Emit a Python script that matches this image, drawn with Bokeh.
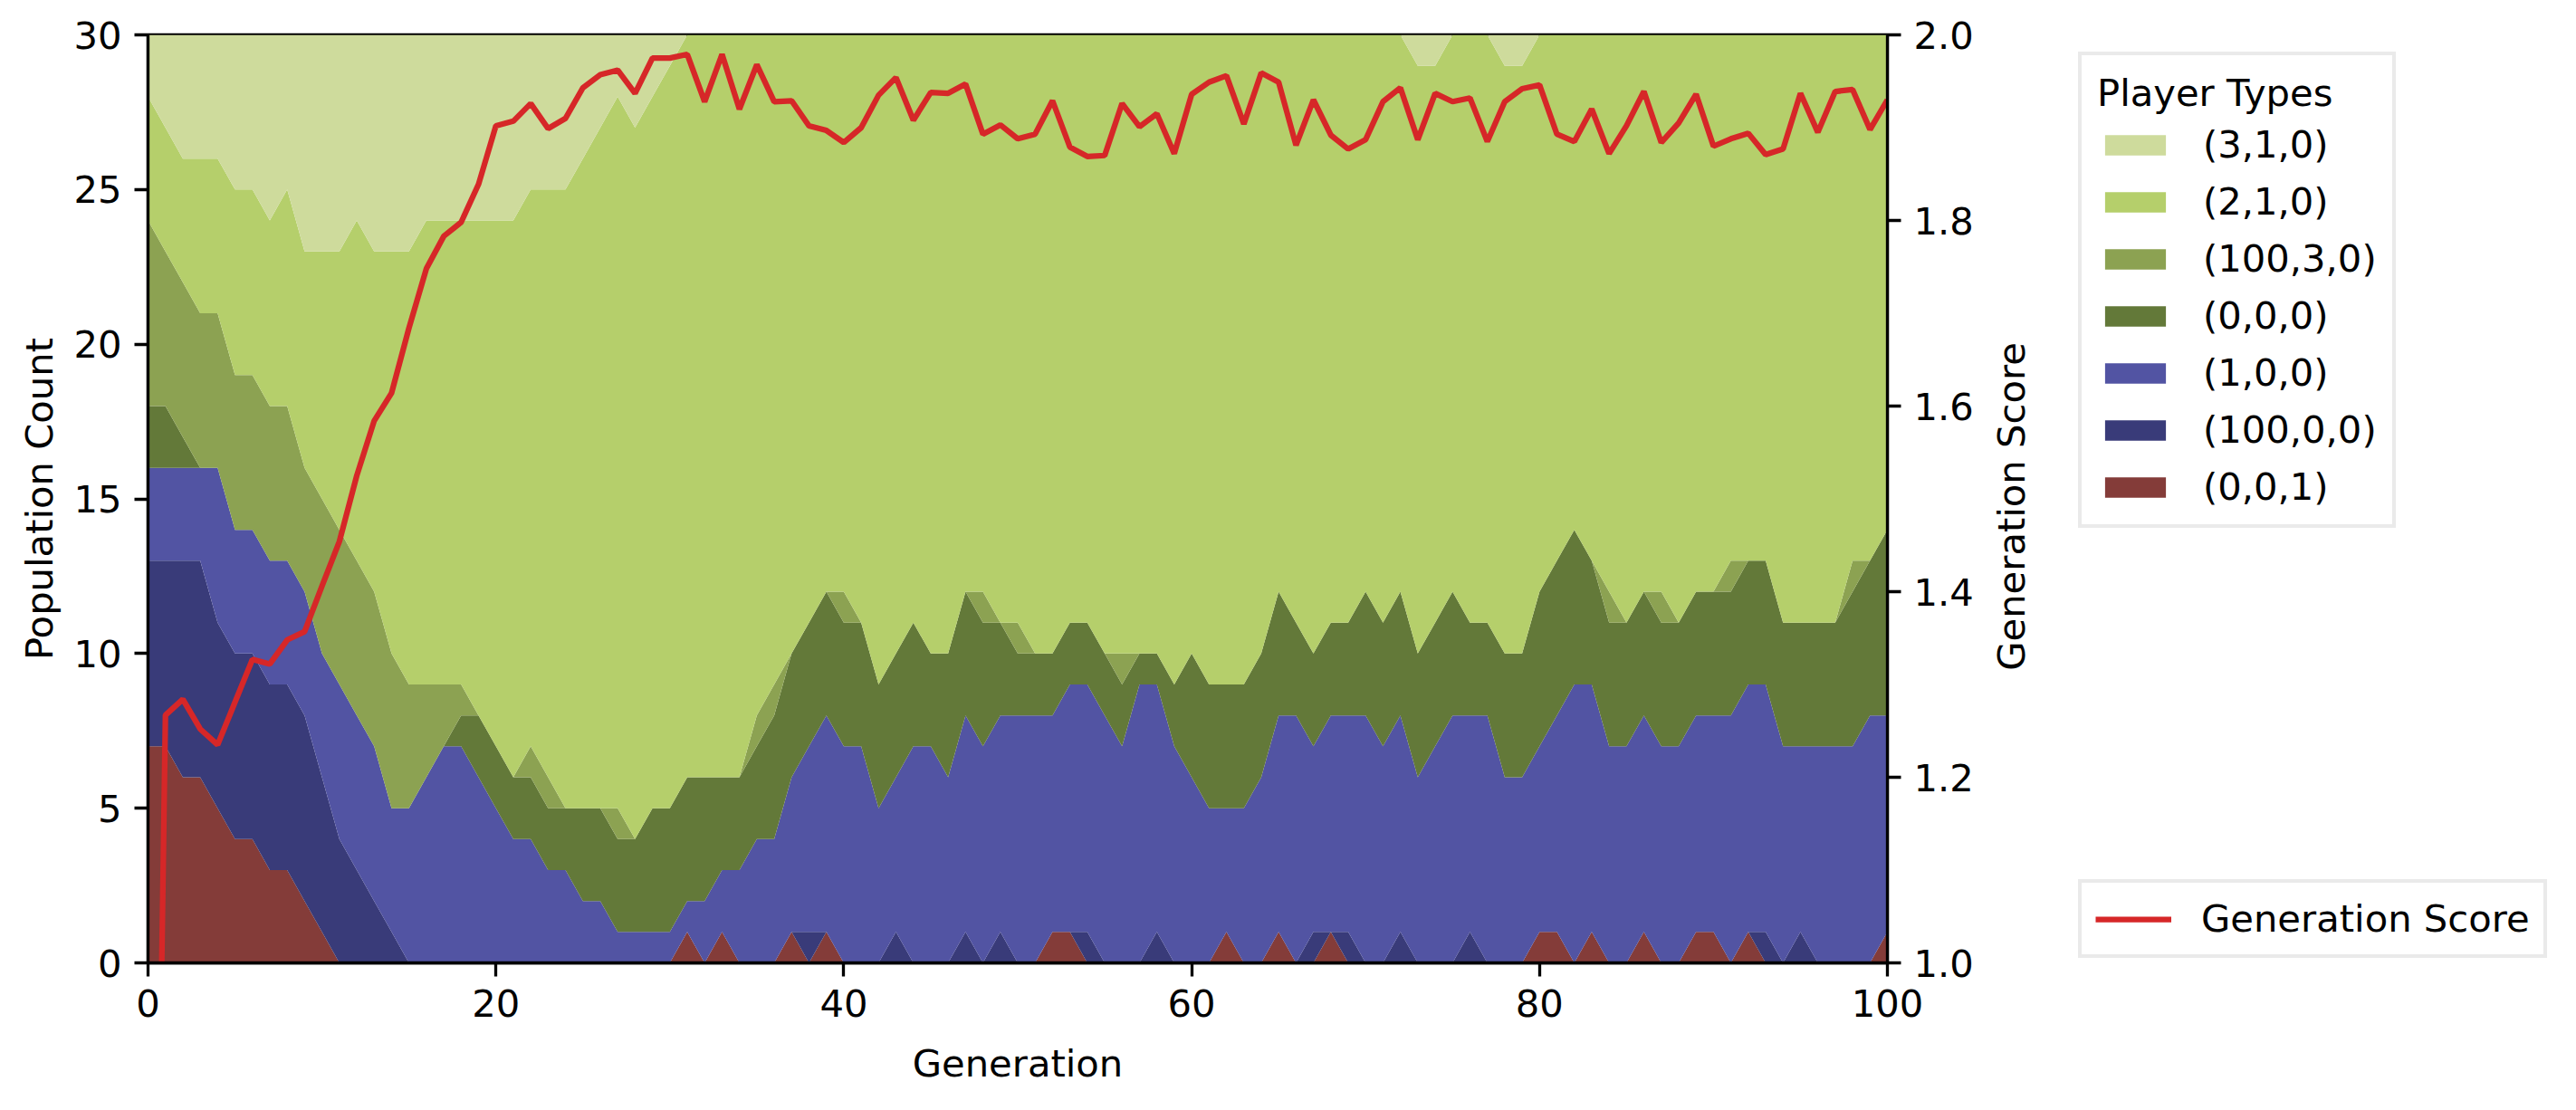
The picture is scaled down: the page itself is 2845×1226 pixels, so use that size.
import math
from bokeh.plotting import figure
from bokeh.layouts import row
from bokeh.models import (ColumnDataSource, Range1d, LinearAxis, Legend, LegendItem,
                          FixedTicker, PrintfTickFormatter, Label)
from bokeh.embed import file_html
from bokeh.resources import INLINE

generations = list(range(101))

# stacked series (counts per generation), bottom to top
s_001 = [7,7,6,6,5,4,4,3,3,2,
         1,0,0,0,0,0,0,0,0,0,
         0,0,0,0,0,0,0,0,0,0,
         0,1,0,1,0,0,0,1,0,1,
         0,0,0,0,0,0,0,0,0,0,
         0,0,1,1,0,0,0,0,0,0,
         0,0,1,0,0,1,0,0,1,0,
         0,0,0,0,0,0,0,0,0,0,
         1,1,0,1,0,0,1,0,0,1,
         1,0,1,0,0,0,0,0,0,0,
         1]
s_100_0_0 = [6,6,7,7,6,6,6,6,6,6,
             5,4,3,2,1,0,0,0,0,0,
             0,0,0,0,0,0,0,0,0,0,
             0,0,0,0,0,0,0,0,1,0,
             0,0,0,1,0,0,0,1,0,1,
             0,0,0,0,1,0,0,0,1,0,
             0,0,0,0,0,0,0,1,0,1,
             0,0,1,0,0,0,1,0,0,0,
             0,0,0,0,0,0,0,0,0,0,
             0,0,0,1,0,1,0,0,0,0,
             0]
s_100 = [3,3,3,3,5,4,4,4,4,4,
         4,5,5,5,4,5,6,7,7,6,
         5,4,4,3,3,2,2,1,1,1,
         1,1,2,2,3,4,4,5,6,7,
         7,7,5,5,7,7,6,7,7,7,
         8,8,7,8,8,8,7,9,8,7,
         6,5,4,5,6,7,8,6,7,7,
         8,7,7,6,7,8,7,8,6,6,
         6,7,9,8,7,7,7,7,7,7,
         7,8,8,8,7,6,7,7,7,8,
         7]
s_000 = [2,2,1,0,0,0,0,0,0,0,
         0,0,0,0,0,0,0,0,1,2,
         2,2,2,2,2,3,3,3,3,4,
         4,4,4,3,3,3,4,4,4,4,
         4,4,4,4,4,3,4,4,4,3,
         2,2,2,2,2,2,2,1,1,2,
         4,4,4,4,4,4,3,3,3,3,
         4,4,4,4,4,4,3,3,4,4,
         5,5,5,4,4,4,4,4,4,4,
         4,4,4,4,4,4,4,4,5,5,
         6]
s_100_3_0 = [6,5,5,5,5,5,5,5,5,4,
             5,5,5,5,5,4,3,2,1,0,
             0,0,1,1,0,0,0,1,0,0,
             0,0,0,0,0,1,1,0,0,0,
             1,0,0,0,0,0,0,0,1,0,
             1,0,0,0,0,0,1,0,0,0,
             0,0,0,0,0,0,0,0,0,0,
             0,0,0,0,0,0,0,0,0,0,
             0,0,0,0,1,0,0,1,0,0,
             0,1,0,0,0,0,0,0,1,0,
             0]
s_210 = [4,4,4,5,5,6,6,6,7,7,
         8,9,11,11,13,14,15,15,15,16,
         17,18,18,19,20,21,22,23,23,23,
         24,24,24,24,24,22,21,20,19,18,
         18,19,21,20,19,20,20,18,18,19,
         19,20,20,19,19,20,20,20,20,21,
         20,21,21,21,20,18,19,20,19,19,
         18,19,18,19,18,18,19,19,19,19,
         18,17,16,17,18,19,18,18,19,18,
         18,17,17,17,19,19,19,19,17,17,
         16]
s_310 = [2,3,4,4,4,5,5,6,5,7,
         7,7,6,7,7,7,6,6,6,6,
         6,6,5,5,5,4,3,2,3,2,
         1,0,0,0,0,0,0,0,0,0,
         0,0,0,0,0,0,0,0,0,0,
         0,0,0,0,0,0,0,0,0,0,
         0,0,0,0,0,0,0,0,0,0,
         0,0,0,1,1,0,0,0,1,1,
         0,0,0,0,0,0,0,0,0,0,
         0,0,0,0,0,0,0,0,0,0,
         0]

score = [0.0, 1.267, 1.284, 1.252, 1.235, 1.281, 1.327, 1.322, 1.348, 1.357,
         1.406, 1.454, 1.525, 1.584, 1.614, 1.684, 1.748, 1.783, 1.798, 1.839,
         1.902, 1.907, 1.926, 1.899, 1.910, 1.943, 1.957, 1.962, 1.937, 1.975,
         1.975, 1.979, 1.928, 1.979, 1.920, 1.968, 1.928, 1.929, 1.902, 1.897,
         1.884, 1.900, 1.935, 1.954, 1.908, 1.938, 1.937, 1.947, 1.893, 1.903,
         1.888, 1.893, 1.929, 1.879, 1.869, 1.870, 1.926, 1.901, 1.915, 1.872,
         1.936, 1.949, 1.956, 1.904, 1.959, 1.949, 1.881, 1.930, 1.892, 1.877,
         1.887, 1.928, 1.943, 1.887, 1.937, 1.928, 1.932, 1.885, 1.928, 1.942,
         1.946, 1.893, 1.885, 1.920, 1.872, 1.902, 1.939, 1.884, 1.905, 1.936,
         1.880, 1.888, 1.894, 1.871, 1.877, 1.937, 1.895, 1.939, 1.941, 1.898,
         1.930]

labels = ["(0,0,1)", "(100,0,0)", "(1,0,0)", "(0,0,0)", "(100,3,0)", "(2,1,0)", "(3,1,0)"]
colors = ["#843c39", "#393b79", "#5254a3", "#637939", "#8ca252", "#b5cf6b", "#cedb9c"]
keys = ["s_001", "s_100_0_0", "s_100", "s_000", "s_100_3_0", "s_210", "s_310"]

x_ticks = [0, 20, 40, 60, 80, 100]
y_ticks = [0, 5, 10, 15, 20, 25, 30]
score_ticks = [1.0, 1.2, 1.4, 1.6, 1.8, 2.0]

src = ColumnDataSource(dict(gen=generations, s_001=s_001, s_100_0_0=s_100_0_0, s_100=s_100,
                            s_000=s_000, s_100_3_0=s_100_3_0, s_210=s_210, s_310=s_310,
                            score=score))

FONT = "DejaVu Sans"
FS = "41.7px"
RED = "#d62728"

RIGHT_BORDER = 110
FIG1_W = 163 + 1921 + RIGHT_BORDER
TOTAL_W = 2829
TOTAL_H = 1210

p = figure(frame_width=1921, frame_height=1025,
           x_range=Range1d(0, 100), y_range=Range1d(0, 30),
           output_backend="svg", toolbar_location=None,
           min_border_left=163, min_border_right=RIGHT_BORDER,
           min_border_top=38, min_border_bottom=147,
           background_fill_color="white", border_fill_color="white")
p.extra_y_ranges = {"score": Range1d(1.0, 2.0)}

areas = p.varea_stack(stackers=keys, x="gen", color=colors, source=src)
score_line = p.line("gen", "score", source=src, y_range_name="score",
                    line_color=RED, line_width=6.25)

ax2 = LinearAxis(y_range_name="score",
                 ticker=FixedTicker(ticks=score_ticks),
                 formatter=PrintfTickFormatter(format="%.1f"))
p.add_layout(ax2, "right")

p.xaxis.ticker = FixedTicker(ticks=x_ticks)
p.yaxis[0].ticker = FixedTicker(ticks=y_ticks)
p.xaxis.axis_label = "Generation"
p.yaxis[0].axis_label = "Population Count"

for ax in p.axis:
    ax.axis_line_width = 3.3
    ax.axis_line_color = "black"
    ax.major_tick_line_width = 3.3
    ax.major_tick_line_color = "black"
    ax.major_tick_out = 15
    ax.major_tick_in = 0
    ax.minor_tick_line_color = None
    ax.major_label_text_font = FONT
    ax.major_label_text_font_size = FS
    ax.major_label_text_color = "black"
    ax.axis_label_text_font = FONT
    ax.axis_label_text_font_size = FS
    ax.axis_label_text_font_style = "normal"
    ax.axis_label_text_color = "black"

p.xaxis.major_label_standoff = 14
p.xaxis.axis_label_standoff = 24
p.yaxis[0].major_label_standoff = 14
p.yaxis[0].axis_label_standoff = 10
ax2.major_label_standoff = 14

p.xgrid.visible = False
p.ygrid.visible = False
p.outline_line_color = "black"
p.outline_line_width = 3.3
p.outline_line_alpha = 1.0

# side panel (second figure, to the right of the chart): score axis title and legends
P2_LEFT = 8 + FIG1_W
p2 = figure(width=TOTAL_W - FIG1_W, height=TOTAL_H,
            x_range=Range1d(0, 1), y_range=Range1d(0, 1),
            output_backend="svg", toolbar_location=None,
            x_axis_location=None, y_axis_location=None, min_border=0,
            background_fill_color="white", border_fill_color="white")
p2.outline_line_color = None
p2.xgrid.visible = False
p2.ygrid.visible = False

Y_SHIFT = 156
BOTTOM_PX = 8 + TOTAL_H - Y_SHIFT

score_title = Label(x=2229 - P2_LEFT, y=BOTTOM_PX - 558, x_units="screen", y_units="screen",
                    text="Generation Score", angle=math.pi / 2,
                    text_align="center", text_baseline="middle",
                    text_font=FONT, text_font_size=FS, text_color="black")
p2.add_layout(score_title)

# legend-only glyphs, kept outside the visible range of the side panel
dummy_areas = [p2.varea(x=[5, 6], y1=[5, 5], y2=[6, 6], fill_color=c) for c in colors]
dummy_line = p2.line(x=[5, 6], y=[5, 5], line_color=RED, line_width=6.25)

LEG_LEFT = 2303 - P2_LEFT

legend_items = [LegendItem(label=labels[i], renderers=[dummy_areas[i]]) for i in range(6, -1, -1)]
leg1 = Legend(items=legend_items, location=(LEG_LEFT, BOTTOM_PX - 582),
              title="Player Types", title_text_font=FONT, title_text_font_size=FS,
              title_text_font_style="normal", title_text_color="black", title_standoff=8,
              label_text_font=FONT, label_text_font_size=FS, label_text_color="black",
              glyph_width=84, glyph_height=28, label_height=49, label_standoff=33,
              spacing=14, padding=17, margin=0,
              border_line_color="#d6d6d6", border_line_width=4,
              background_fill_color="white", background_fill_alpha=1.0)
p2.add_layout(leg1)

leg2 = Legend(items=[LegendItem(label="Generation Score", renderers=[dummy_line])],
              location=(LEG_LEFT, BOTTOM_PX - 1057),
              label_text_font=FONT, label_text_font_size=FS, label_text_color="black",
              glyph_width=84, glyph_height=28, label_height=49, label_standoff=33,
              padding=15, margin=0,
              border_line_color="#d6d6d6", border_line_width=4,
              background_fill_color="white", background_fill_alpha=1.0)
p2.add_layout(leg2)

layout = row(p, p2)
open("out.html", "w").write(file_html(layout, INLINE))
